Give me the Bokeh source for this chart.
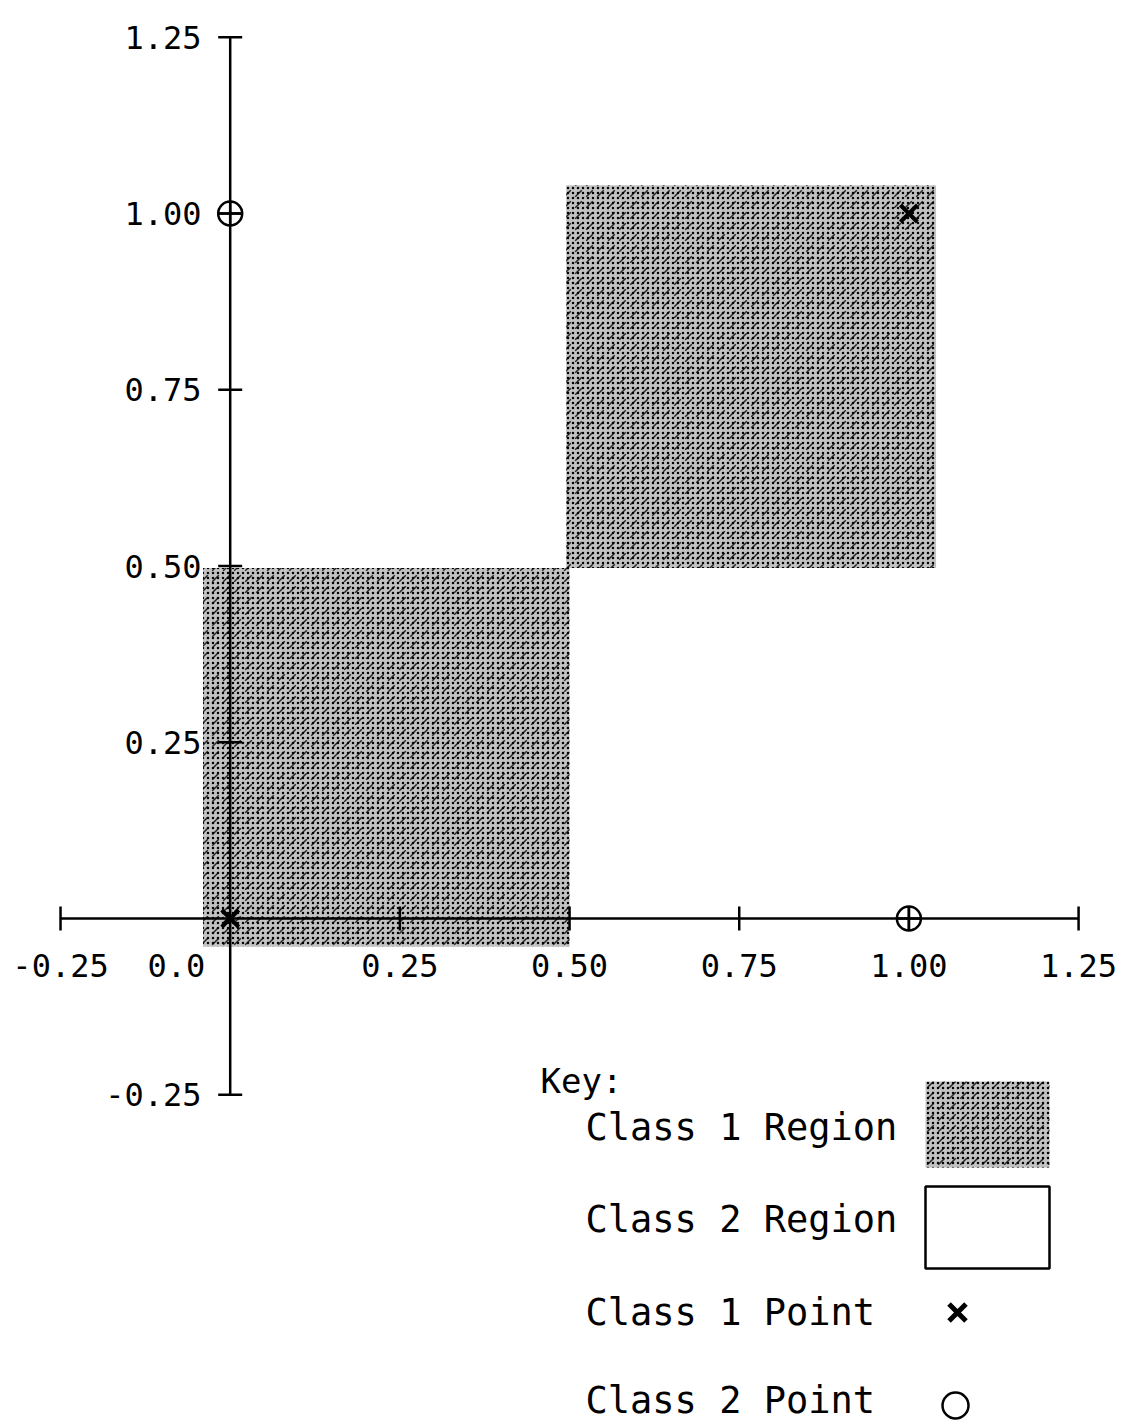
from bokeh.plotting import figure
from bokeh.models import Range1d
from bokeh.core.properties import value
from bokeh.embed import file_html
from bokeh.resources import INLINE

# ---- data ----
region_left = [-0.04, 0.495]
region_right = [0.50, 1.04]
region_bottom = [-0.04, 0.497]
region_top = [0.497, 1.04]

class1_x = [0.0, 1.0]
class1_y = [0.0, 1.0]
class2_x = [0.0, 1.0]
class2_y = [1.0, 0.0]

x_ticks = [-0.25, 0.25, 0.50, 0.75, 1.00, 1.25]
x_label_pos = [-0.25, 0.0, 0.25, 0.50, 0.75, 1.00, 1.25]
x_labels = ["-0.25", "0.0", "0.25", "0.50", "0.75", "1.00", "1.25"]
y_ticks = [1.25, 1.00, 0.75, 0.50, 0.25, -0.25]
y_labels = ["1.25", "1.00", "0.75", "0.50", "0.25", "-0.25"]

legend_labels = ["Class 1 Region", "Class 2 Region", "Class 1 Point", "Class 2 Point"]

# ---- layout (pixel geometry of the page) ----
W, H = 1145, 1424
PXU, PYU = 678.7, 705.0      # pixels per data unit
OX, OY = 229.7, 918.0        # pixel position of the origin

def dx(px):
    return (px - OX) / PXU

def dy(py):
    return (OY - py) / PYU

FONT = value("DejaVu Sans Mono")

p = figure(width=W, height=H, output_backend="svg", toolbar_location=None,
           x_range=Range1d(dx(0), dx(W)), y_range=Range1d(dy(H), dy(0)),
           min_border=0)
p.axis.visible = False
p.grid.visible = False
p.outline_line_color = None
p.background_fill_color = "white"

STIP = dict(fill_color="#c2c2c2", line_color=None, hatch_pattern="dot",
            hatch_color="black", hatch_scale=5, hatch_weight=2.5)
STIP2 = dict(fill_color=None, line_color=None, hatch_pattern="right_diagonal_dash",
             hatch_color="black", hatch_scale=11, hatch_weight=1.5, hatch_alpha=0.8)

# class 1 regions
p.quad(left=region_left, right=region_right, bottom=region_bottom, top=region_top, **STIP)
p.quad(left=region_left, right=region_right, bottom=region_bottom, top=region_top, **STIP2)

# axes lines
p.segment(x0=[-0.25], y0=[0], x1=[1.25], y1=[0], line_color="black", line_width=2.5)
p.segment(x0=[0], y0=[-0.25], x1=[0], y1=[1.25], line_color="black", line_width=2.5)

tx = 12 / PXU
ty = 12 / PYU
p.segment(x0=x_ticks, y0=[-ty] * len(x_ticks), x1=x_ticks, y1=[ty] * len(x_ticks),
          line_color="black", line_width=2.5)
p.segment(x0=[-tx] * len(y_ticks), y0=y_ticks, x1=[tx] * len(y_ticks), y1=y_ticks,
          line_color="black", line_width=2.5)

# x tick labels
xl_x = [v if lab != "0.0" else v - 25 / PXU for v, lab in zip(x_label_pos, x_labels)]
xl_align = ["center" if lab != "0.0" else "right" for lab in x_labels]
p.text(x=xl_x, y=[dy(965)] * len(x_labels), text=x_labels, text_align=xl_align,
       text_baseline="middle", text_font=FONT, text_font_size="32px", text_color="black")

# y tick labels
p.text(x=[dx(201)] * len(y_labels), y=y_ticks, text=y_labels, text_align="right",
       text_baseline="middle", text_font=FONT, text_font_size="32px", text_color="black")

# points
p.scatter(class1_x, class1_y, marker="x", size=24, line_color="black", line_width=4)
p.scatter(class2_x, class2_y, marker="circle_cross", size=24, fill_color=None,
          line_color="black", line_width=2.5)

# ---- key ----
p.text(x=[dx(540)], y=[dy(1080)], text=["Key:"], text_align="left", text_baseline="middle",
       text_font=FONT, text_font_size="34px", text_color="black")
ley = [1127, 1219, 1312, 1400]
p.text(x=[dx(585)] * 4, y=[dy(v) for v in ley], text=legend_labels, text_align="left",
       text_baseline="middle", text_font=FONT, text_font_size="37px", text_color="black")
p.quad(left=[dx(925)], right=[dx(1049)], bottom=[dy(1167)], top=[dy(1081)], **STIP)
p.quad(left=[dx(925)], right=[dx(1049)], bottom=[dy(1167)], top=[dy(1081)], **STIP2)
p.quad(left=[dx(925)], right=[dx(1049)], bottom=[dy(1268)], top=[dy(1186)],
       fill_color="white", line_color="black", line_width=2.5)
p.scatter([dx(957)], [dy(1312)], marker="x", size=24, line_color="black", line_width=5)
p.scatter([dx(955)], [dy(1405)], marker="circle", size=26, fill_color=None,
          line_color="black", line_width=2.5)

open("out.html", "w").write(file_html(p, INLINE))
